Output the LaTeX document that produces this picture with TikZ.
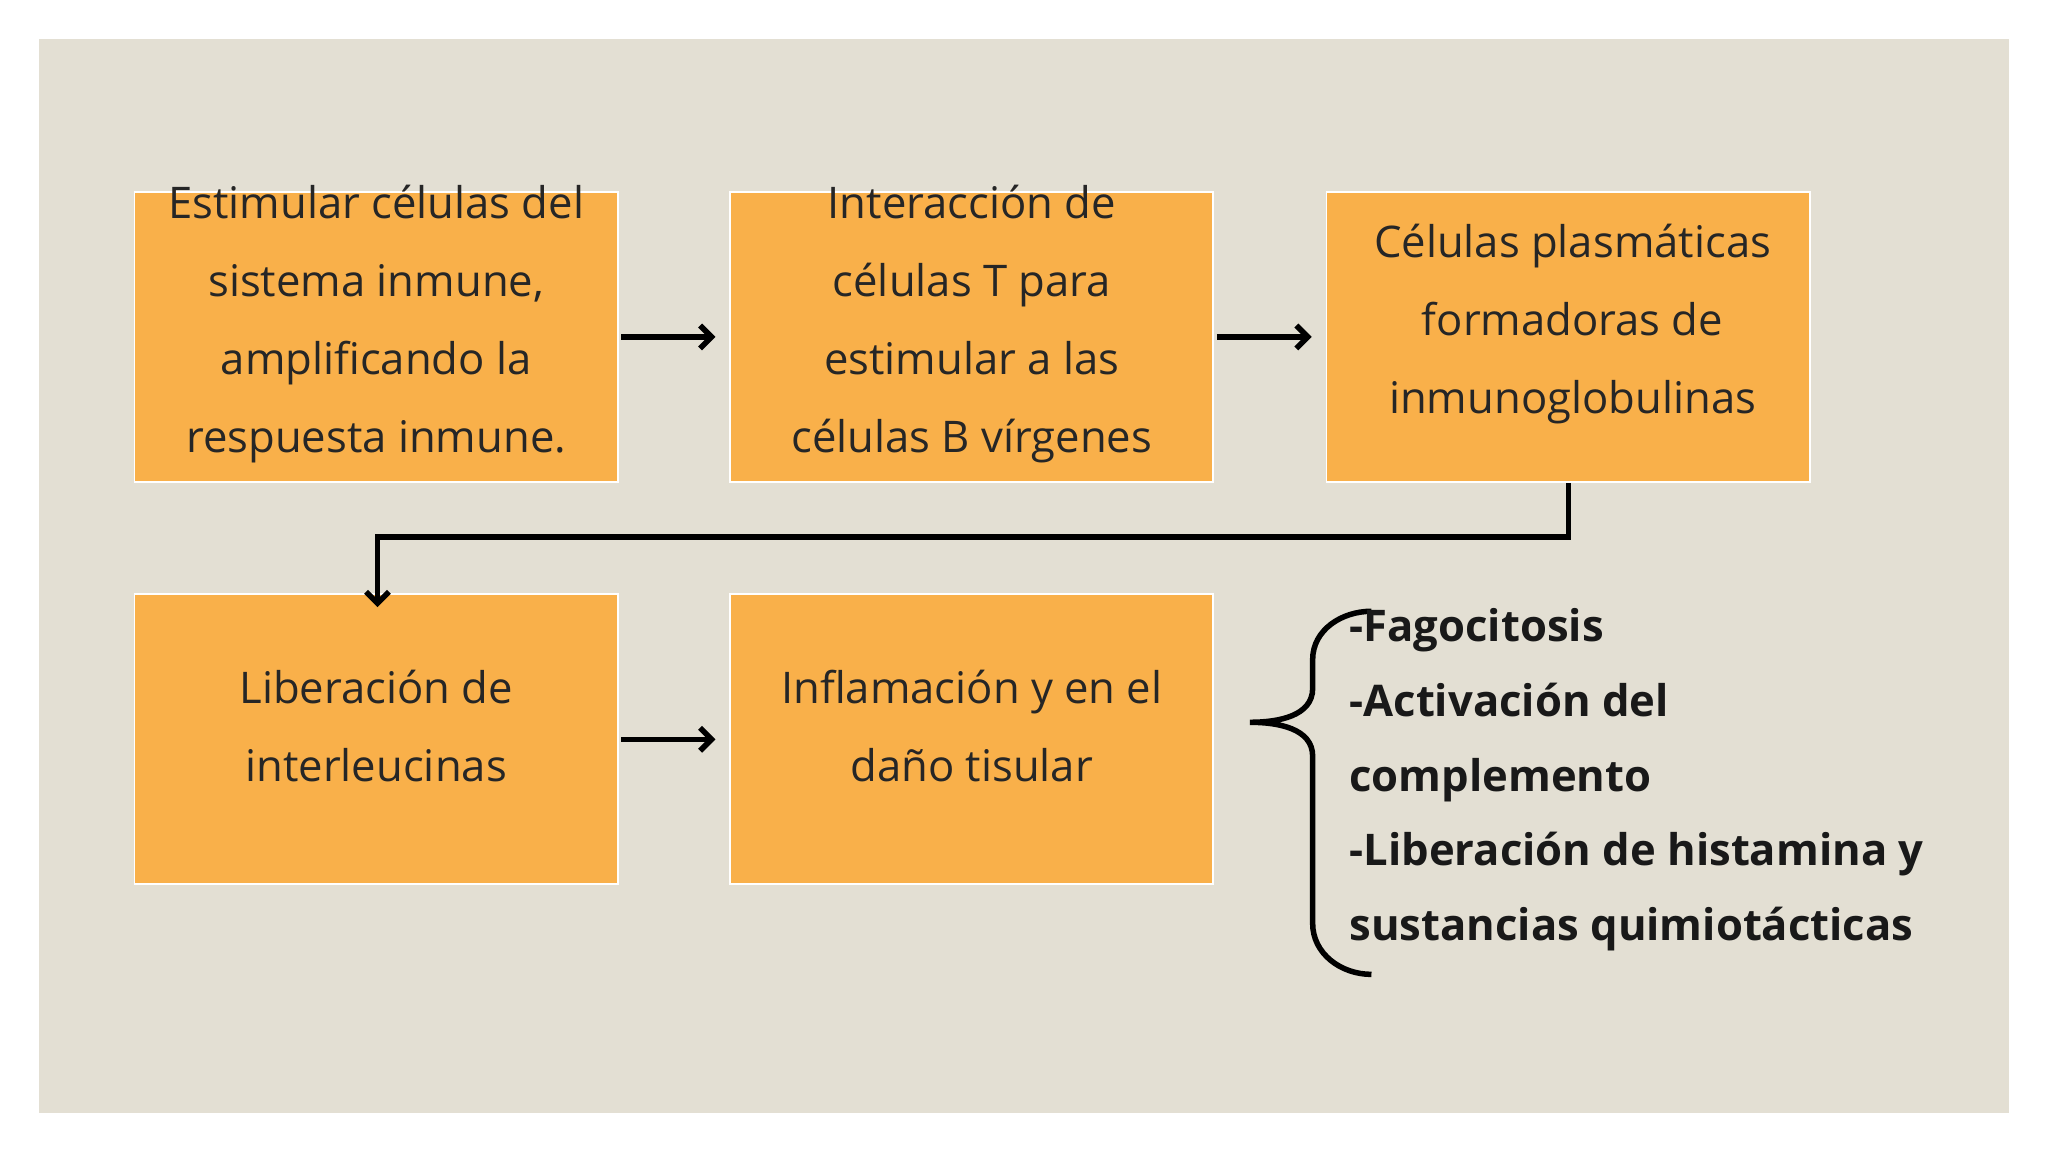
\documentclass[tikz,border=0pt]{standalone}
\usepackage{fontspec}
\setmainfont{Open Sans}
\usetikzlibrary{arrows.meta}
\definecolor{bg}{HTML}{E3DFD3}
\definecolor{boxc}{HTML}{F9B04A}
\tikzset{
 stepbox/.style={draw=white, line width=0.8pt, fill=boxc, minimum width=7.4cm, minimum height=4.44cm, inner sep=0pt},
 boxtext/.style={align=center, font=\fontsize{19}{34}\selectfont, text=black!85},
 conn/.style={line width=2.4pt, -{Straight Barb[length=5pt,width=10pt,line width=2.4pt]}},
}
\begin{document}
\begin{tikzpicture}[x=0.02cm,y=-0.02cm]
\useasboundingbox (0,0) rectangle (1568,882);
\fill[white] (0,0) rectangle (1568,882);
\fill[bg] (30,30) rectangle (1538,852);
\node[stepbox] (b1) at (288,258) {};
\node[stepbox] (b2) at (744,258) {};
\node[stepbox] (b3) at (1200.5,258) {};
\node[stepbox] (b4) at (288,566) {};
\node[stepbox] (b5) at (744,566) {};
\node[boxtext] (t1) at (288,248) {Estimular células del\\sistema inmune,\\amplificando la\\respuesta inmune.};
\node[boxtext] (t2) at (744,248) {Interacción de\\células T para\\estimular a las\\células B vírgenes};
\node[boxtext] (t3) at (1204,248) {Células plasmáticas\\formadoras de\\inmunoglobulinas};
\node[boxtext] (t4) at (288,556) {Liberación de\\interleucinas};
\node[boxtext] (t5) at (744,556) {Inflamación y en el\\daño tisular};
\draw[conn] (b1.east) ++(2,0) -- ([xshift=-6]b2.west);
\draw[conn] (b2.east) ++(2,0) -- ([xshift=-6]b3.west);
\draw[conn] (b4.east) ++(2,0) -- ([xshift=-6]b5.west);
\coordinate (e1) at (1201,411);
\coordinate (e2) at (289,411);
\draw[conn] (b3.south -| e1) -- (e1) -- (e2) -- ([yshift=-6]b4.north -| e2);
\draw[line width=2.4pt] (1050,468) to[out=180,in=90] (1005,505) -- (1005,527) to[out=-90,in=0] (957,553) to[out=0,in=90] (1005,579) -- (1005,707) to[out=-90,in=180] (1050,746);
\node[anchor=west, align=left, font=\fontsize{19}{32.5}\selectfont\bfseries, text=black!90] (list) at (1027,597) {-Fagocitosis\\-Activación del\\complemento\\-Liberación de histamina y\\sustancias quimiotácticas};
\end{tikzpicture}
\end{document}
